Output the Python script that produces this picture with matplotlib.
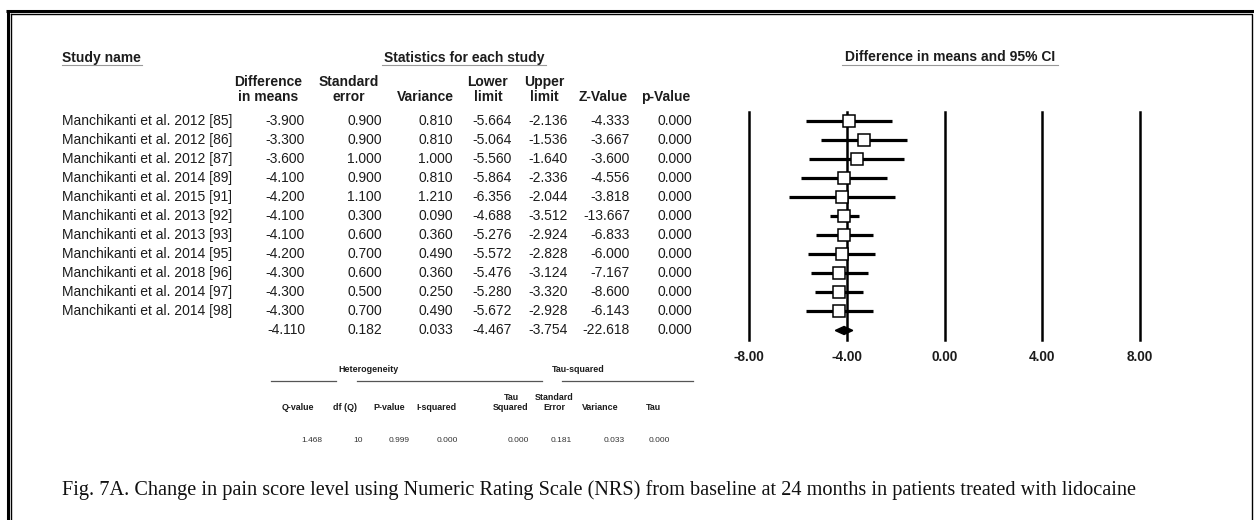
import matplotlib
matplotlib.use("Agg")
import matplotlib.pyplot as plt

plt.rcParams['font.family'] = ['Liberation Sans', 'DejaVu Sans']

# per-study statistics
studies = ["Manchikanti et al. 2012 [85]", "Manchikanti et al. 2012 [86]",
           "Manchikanti et al. 2012 [87]", "Manchikanti et al. 2014 [89]",
           "Manchikanti et al. 2015 [91]", "Manchikanti et al. 2013 [92]",
           "Manchikanti et al. 2013 [93]", "Manchikanti et al. 2014 [95]",
           "Manchikanti et al. 2018 [96]", "Manchikanti et al. 2014 [97]",
           "Manchikanti et al. 2014 [98]"]
diff = [-3.900, -3.300, -3.600, -4.100, -4.200, -4.100, -4.100, -4.200, -4.300, -4.300, -4.300]
se = [0.900, 0.900, 1.000, 0.900, 1.100, 0.300, 0.600, 0.700, 0.600, 0.500, 0.700]
variance = [0.810, 0.810, 1.000, 0.810, 1.210, 0.090, 0.360, 0.490, 0.360, 0.250, 0.490]
lower = [-5.664, -5.064, -5.560, -5.864, -6.356, -4.688, -5.276, -5.572, -5.476, -5.280, -5.672]
upper = [-2.136, -1.536, -1.640, -2.336, -2.044, -3.512, -2.924, -2.828, -3.124, -3.320, -2.928]
zval = [-4.333, -3.667, -3.600, -4.556, -3.818, -13.667, -6.833, -6.000, -7.167, -8.600, -6.143]
pval = [0.000, 0.000, 0.000, 0.000, 0.000, 0.000, 0.000, 0.000, 0.000, 0.000, 0.000]

# pooled estimate: diff, se, variance, lower, upper, z, p
pooled = [-4.110, 0.182, 0.033, -4.467, -3.754, -22.618, 0.000]

# heterogeneity / tau-squared block
het_headers = ["Q-value", "df (Q)", "P-value", "I-squared", "Tau\nSquared", "Standard\nError", "Variance", "Tau"]
het_values = ["1.468", "10", "0.999", "0.000", "0.000", "0.181", "0.033", "0.000"]

col_headers = ["Difference\nin means", "Standard\nerror", "Variance", "Lower\nlimit", "Upper\nlimit", "Z-Value", "p-Value"]
x_ticks = [-8, -4, 0, 4, 8]
caption = ("Fig. 7A. Change in pain score level using Numeric Rating Scale (NRS) from baseline "
           "at 24 months in patients treated with lidocaine")

W, H = 1254, 520
fig = plt.figure(figsize=(W / 100, H / 100), dpi=100)

# background axis in pixel units for the table text and frame
bg = fig.add_axes([0, 0, 1, 1])
bg.set_xlim(0, W)
bg.set_ylim(H, 0)
bg.axis('off')

ink = '#1c1c1c'
fs = 10.0

# frame: thick outer rule plus thin inner rule
bg.plot([6, W], [10.8, 10.8], color='black', lw=2.2, solid_capstyle='butt')
bg.plot([7.5, 7.5], [9.7, H], color='black', lw=2.2, solid_capstyle='butt')
bg.plot([11, 1252, 1252], [14.2, 14.2, H], color='black', lw=1.0)
bg.plot([11, 11], [14.2, H], color='black', lw=1.0)

# section titles
bg.text(62, 58, "Study name", fontsize=fs, fontweight='bold', color=ink, va='center')
bg.plot([62, 142], [64.5, 64.5], color='#999999', lw=0.8)
bg.text(464, 58, "Statistics for each study", fontsize=fs, fontweight='bold', color=ink,
        va='center', ha='center')
bg.plot([382, 546], [64.5, 64.5], color='#999999', lw=0.8)
bg.text(950, 57, "Difference in means and 95% CI", fontsize=fs, fontweight='bold', color=ink,
        va='center', ha='center')
bg.plot([842, 1058], [64.5, 64.5], color='#999999', lw=0.8)

# column headers and values
head_x = [268, 349, 425, 488, 544, 603, 666]
val_x = [305, 382, 453, 512, 568, 630, 692]
for hx, h in zip(head_x, col_headers):
    lines = h.split("\n")
    if len(lines) == 2:
        bg.text(hx, 82, lines[0], fontsize=fs, fontweight='bold', color=ink, ha='center', va='center')
    bg.text(hx, 97, lines[-1], fontsize=fs, fontweight='bold', color=ink, ha='center', va='center')

row0, step = 120.7, 19.03
columns = [diff, se, variance, lower, upper, zval, pval]
for i, name in enumerate(studies):
    y = row0 + step * i
    bg.text(62, y, name, fontsize=fs, color=ink, va='center')
    for vx, col in zip(val_x, columns):
        bg.text(vx, y, "%.3f" % col[i], fontsize=fs, color=ink, va='center', ha='right')
y = row0 + step * len(studies)
for vx, v in zip(val_x, pooled):
    bg.text(vx, y, "%.3f" % v, fontsize=fs, color=ink, va='center', ha='right')

# heterogeneity block
sfs = 6.4
bg.text(368, 369, "Heterogeneity", fontsize=sfs, fontweight='bold', color=ink, ha='center', va='center')
bg.text(578, 369, "Tau-squared", fontsize=sfs, fontweight='bold', color=ink, ha='center', va='center')
for x0, x1 in [(271, 336), (357, 542), (562, 693)]:
    bg.plot([x0, x1], [380.7, 380.7], color='#555555', lw=0.9)
het_head_x = [298, 345, 389, 436, 511, 554, 600, 653]
het_val_x = [322, 363, 410, 458, 529, 572, 625, 670]
for hx, h in zip(het_head_x, het_headers):
    lines = h.split("\n")
    if len(lines) == 2:
        bg.text(hx, 398, lines[0], fontsize=sfs, fontweight='bold', color=ink, ha='center', va='center')
    bg.text(hx, 408, lines[-1], fontsize=sfs, fontweight='bold', color=ink, ha='center', va='center')
for vx, v in zip(het_val_x, het_values):
    bg.text(vx, 440, v, fontsize=6.0, color='#333333', ha='right', va='center')

# caption
bg.text(62, 490, caption, fontsize=14.6, family='Liberation Serif', color='#111111', va='center')

# forest plot
x_left, x_right = 749, 1140
y_top, y_bot = 111.7, 340
ax = fig.add_axes([x_left / W, 1 - y_bot / H, (x_right - x_left) / W, (y_bot - y_top) / H])
ax.set_xlim(-8, 8)
ax.set_ylim(len(studies) + 0.5, -0.5)
for s in ax.spines.values():
    s.set_visible(False)
ax.patch.set_alpha(0)
for t in x_ticks:
    ax.axvline(t, color='black', lw=1.8, zorder=1, clip_on=False)

rows = list(range(len(studies)))
ax.hlines(rows, lower, upper, color='black', lw=2.3, zorder=2)
ax.plot(diff, rows, linestyle='none', marker='s', markersize=8, markerfacecolor='white',
        markeredgecolor='black', markeredgewidth=1.1, zorder=3)

ps = len(studies)
ax.fill([pooled[3], pooled[0], pooled[4], pooled[0]], [ps, ps - 0.21, ps, ps + 0.21],
        color='black', zorder=3)

ax.set_xticks(x_ticks)
ax.set_xticklabels(["%.2f" % t for t in x_ticks], fontsize=9.8, fontweight='bold', color=ink)
ax.tick_params(axis='x', length=0, pad=7)
ax.set_yticks([])

fig.savefig("out.png", dpi=100)
